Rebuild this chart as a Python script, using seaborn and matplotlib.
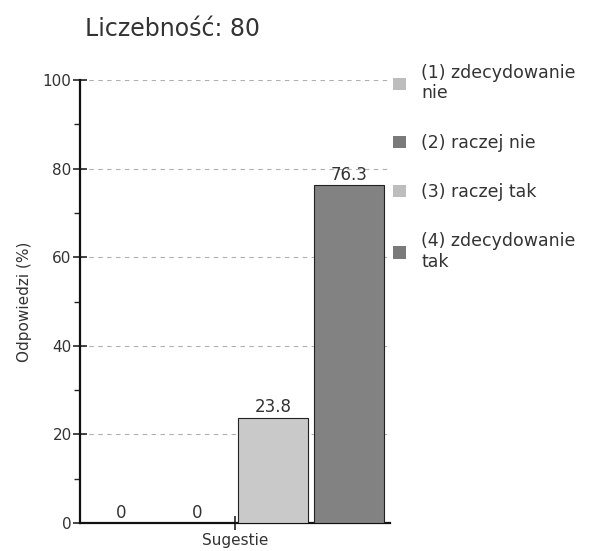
import matplotlib
matplotlib.use("Agg")
import matplotlib.pyplot as plt
import pandas as pd
import seaborn as sns
from matplotlib.patches import Patch

# data
GROUP = ["Sugestie"] * 4
ANSWERS = ["(1) zdecydowanie\nnie", "(2) raczej nie", "(3) raczej tak", "(4) zdecydowanie\ntak"]
PERCENT = [0.0, 0.0, 23.8, 76.3]
COLORS = ["#d9d9d9", "#8c8c8c", "#c9c9c9", "#828282"]
LEGEND_COLORS = ["#bdbdbd", "#7a7a7a", "#bdbdbd", "#7a7a7a"]
Y_TICKS = [0, 20, 40, 60, 80, 100]
Y_MINOR = [10, 30, 50, 70, 90]

df = pd.DataFrame({"group": GROUP, "answer": ANSWERS, "percent": PERCENT})

sns.set_style("white")
plt.rcParams["font.family"] = ["DejaVu Sans"]
TEXT = "#333333"

fig = plt.figure(figsize=(5.9, 5.51), dpi=100)
ax = fig.add_axes([0.1356, 0.0508, 0.5254, 0.804])

sns.barplot(
    data=df, x="group", y="percent", hue="answer",
    palette=COLORS, width=0.98, gap=0.07, edgecolor="#222222",
    linewidth=0.8, legend=False, ax=ax, zorder=3,
)

ax.set_xlim(-0.5, 0.5)
ax.set_ylim(0, 100)
ax.set_yticks(Y_TICKS)
ax.set_yticks(Y_MINOR, minor=True)
ax.yaxis.grid(True, which="major", linestyle=(0, (4, 4)), color="#b0b0b0", linewidth=0.8, zorder=0)
ax.set_axisbelow(True)

for side in ["top", "right"]:
    ax.spines[side].set_visible(False)
for side in ["left", "bottom"]:
    ax.spines[side].set_color("#111111")
    ax.spines[side].set_linewidth(1.6)

ax.tick_params(axis="y", which="major", direction="inout", length=10, width=1.2,
               labelsize=11, labelcolor=TEXT, left=True, pad=1)
ax.tick_params(axis="y", which="minor", direction="out", length=4, width=1.0, left=True)
ax.tick_params(axis="x", direction="inout", length=10, width=1.2, labelsize=11,
               labelcolor=TEXT, bottom=True, pad=2)

ax.set_xlabel("")
ax.set_ylabel("Odpowiedzi (%)", fontsize=11, color=TEXT, labelpad=8)

for container in ax.containers:
    ax.bar_label(container, fmt="%g", fontsize=12, color=TEXT, padding=1)

fig.text(0.144, 0.925, "Liczebność: 80", fontsize=17, color=TEXT, ha="left", va="bottom")

handles = [Patch(facecolor=c, edgecolor="none") for c in LEGEND_COLORS]
fig.legend(
    handles, ANSWERS, loc="upper left", bbox_to_anchor=(0.655, 0.897),
    frameon=False, fontsize=12.5, labelcolor=TEXT, handlelength=0.7, handleheight=0.7,
    handletextpad=0.9, labelspacing=1.8, borderaxespad=0,
)

fig.savefig("out.png", dpi=100)
